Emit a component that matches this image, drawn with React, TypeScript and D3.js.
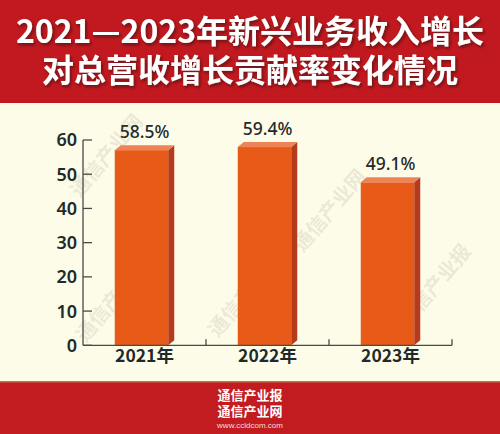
import React from "react";
import * as d3 from "d3";

const categories = ["2021年", "2022年", "2023年"];
const values = [58.5, 59.4, 49.1];
const valueLabels = ["58.5%", "59.4%", "49.1%"];
const yTicks = [0, 10, 20, 30, 40, 50, 60];
const titleLines = ["2021—2023年新兴业务收入增长", "对总营收增长贡献率变化情况"];
const footerLines = ["通信产业报", "通信产业网"];
const footerUrl = "www.ccldcom.com";
const watermarks = [
  { text: "通信产业网", x: 112, y: 160 },
  { text: "通信产业报", x: 118, y: 305 },
  { text: "通信产业网", x: 335, y: 215 },
  { text: "通信产业报", x: 440, y: 290 },
  { text: "通信产业网", x: 250, y: 300 },
];

const W = 500;
const H = 434;
const CJK = "'Noto Sans CJK SC', 'Noto Sans', sans-serif";

export default function App() {
  const x0 = 83;
  const x1 = 452;
  const yBase = 345.3;
  const yTop = 140;
  const x = d3.scaleBand<string>().domain(categories).range([x0, x1]).padding(0);
  const y = d3.scaleLinear().domain([0, 60]).range([yBase, yTop]);
  const depth = 6;
  const frontW = 53.5;

  return (
    <svg width={W} height={H} style={{ position: "absolute", left: 0, top: 0 }}>
      <defs>
        <filter id="tshadow" x="-10%" y="-20%" width="120%" height="150%">
          <feDropShadow dx="1.5" dy="2" stdDeviation="1.5" floodColor="#3a0a0a" floodOpacity="0.7" />
        </filter>
      </defs>
      <rect x={0} y={0} width={W} height={H} fill="#fdfce9" />
      {/* header */}
      <rect x={0} y={0} width={W} height={103} fill="#c1191f" />
      {titleLines.map((t, i) => (
        <text
          key={t}
          x={250}
          y={i === 0 ? 43 : 82}
          textAnchor="middle"
          fill="#ffffff"
          fontFamily={CJK}
          fontWeight={700}
          fontSize={32}
          filter="url(#tshadow)"
        >
          {t}
        </text>
      ))}

      {/* watermarks */}
      {watermarks.map((w, i) => (
        <text
          key={i}
          x={w.x}
          y={w.y}
          transform={`rotate(-50 ${w.x} ${w.y})`}
          textAnchor="middle"
          fill="#b9b3a0"
          opacity={0.25}
          fontFamily={CJK}
          fontWeight={700}
          fontSize={20}
        >
          {w.text}
        </text>
      ))}

      {/* bars */}
      {categories.map((c, i) => {
        const bx = (x(c) as number) + x.bandwidth() / 2 - (frontW + depth) / 2;
        const vy = y(values[i]);
        const fy = vy + 5;
        const fx2 = bx + frontW;
        return (
          <g key={c}>
            <rect x={bx} y={fy} width={frontW} height={yBase - fy} fill="#e75a17" />
            <path
              d={`M${fx2},${fy} L${fx2 + depth},${vy} L${fx2 + depth},${yBase - 5} L${fx2},${yBase} Z`}
              fill="#b63a1c"
            />
            <path
              d={`M${bx},${fy} L${bx + depth},${vy} L${fx2 + depth},${vy} L${fx2},${fy} Z`}
              fill="#ef8358"
            />
            <text
              x={bx + (frontW + depth) / 2}
              y={vy - 7}
              textAnchor="middle"
              fill="#1f2a2b"
              fontFamily="'Noto Sans', sans-serif"
              fontWeight={500}
              fontSize={17.5}
            >
              {valueLabels[i]}
            </text>
          </g>
        );
      })}

      {/* y axis */}
      <line x1={x0} x2={x0} y1={yTop} y2={yBase} stroke="#4a4a46" strokeWidth={1.3} />
      {yTicks.map((t) => (
        <g key={t}>
          <line x1={x0} x2={x0 + 9} y1={y(t)} y2={y(t)} stroke="#4a4a46" strokeWidth={1.3} />
          <text
            x={77}
            y={y(t)}
            dy="0.36em"
            textAnchor="end"
            fill="#1f2a2b"
            fontFamily="'Noto Sans', sans-serif"
            fontWeight={600}
            fontSize={18}
          >
            {t}
          </text>
        </g>
      ))}

      {/* x axis */}
      <line x1={x0} x2={x1} y1={yBase} y2={yBase} stroke="#4a4a46" strokeWidth={1.3} />
      {categories.map((c, i) => (
        <g key={c}>
          <line
            x1={(x(c) as number) + x.bandwidth()}
            x2={(x(c) as number) + x.bandwidth()}
            y1={yBase}
            y2={yBase - 6}
            stroke="#4a4a46"
            strokeWidth={1.3}
          />
          <text
            x={(x(c) as number) + x.bandwidth() / 2}
            y={362}
            textAnchor="middle"
            fill="#1f2a2b"
            fontFamily={CJK}
            fontWeight={700}
            fontSize={17.5}
          >
            {c}
          </text>
        </g>
      ))}

      {/* footer */}
      <rect x={0} y={381} width={W} height={H - 381} fill="#c21c21" />
      <rect x={0} y={381} width={W} height={1.5} fill="#b07a50" />
      {footerLines.map((t, i) => (
        <text
          key={t}
          x={250}
          y={i === 0 ? 399.5 : 416}
          textAnchor="middle"
          fill="#ffffff"
          fontFamily={CJK}
          fontWeight={700}
          fontSize={13}
        >
          {t}
        </text>
      ))}
      <text
        x={250}
        y={427.5}
        textAnchor="middle"
        fill="#f3dcdc"
        fontFamily="'Liberation Sans', Arial, sans-serif"
        fontSize={8}
      >
        {footerUrl}
      </text>
    </svg>
  );
}
